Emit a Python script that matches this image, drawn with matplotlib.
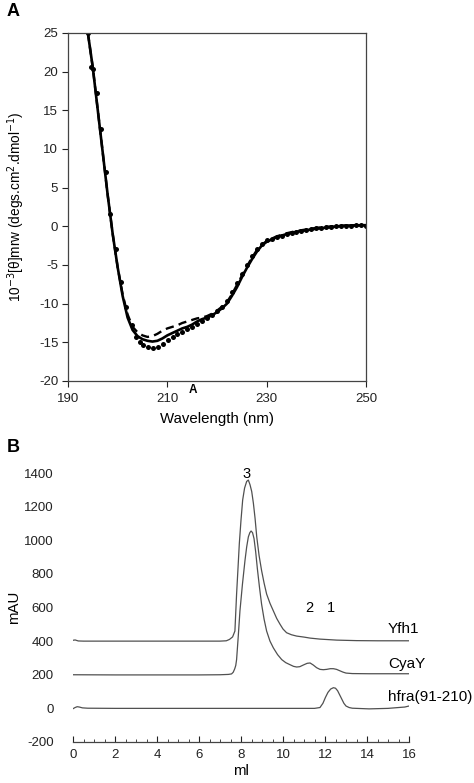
import matplotlib.pyplot as plt
from matplotlib.ticker import MultipleLocator

plt.rcParams['font.family'] = ['Liberation Sans', 'DejaVu Sans']
plt.rcParams['axes.unicode_minus'] = False

# ---- panel A: CD spectra ----
wl = [194, 195, 196, 197, 198, 199, 200, 201, 202, 203, 204, 205, 206, 207, 208,
      209, 210, 211, 212, 213, 214, 215, 216, 217, 218, 219, 220, 221, 222, 223,
      224, 225, 226, 227, 228, 229, 230, 232, 234, 236, 238, 240, 243, 246, 250]
cd_solid = [25, 20.5, 15.0, 9.5, 4.0, -1.0, -5.3, -9.0, -11.8, -13.4, -14.2, -14.6,
            -14.8, -14.9, -14.8, -14.5, -14.1, -13.8, -13.5, -13.2, -13.0, -12.7,
            -12.3, -12.0, -11.8, -11.5, -11.1, -10.6, -10.0, -9.0, -7.9, -6.6, -5.4,
            -4.3, -3.3, -2.5, -2.0, -1.4, -1.0, -0.7, -0.5, -0.3, -0.1, 0.1, 0.15]
cd_dashed = [25, 20.5, 15.0, 9.5, 4.0, -1.0, -5.3, -8.8, -11.4, -13.0, -13.7, -14.1,
             -14.3, -14.2, -13.9, -13.5, -13.2, -13.0, -12.8, -12.5, -12.3, -12.1,
             -11.9, -11.8, -11.6, -11.3, -10.9, -10.4, -9.8, -8.8, -7.6, -6.4, -5.2,
             -4.1, -3.1, -2.4, -1.9, -1.3, -0.9, -0.6, -0.4, -0.2, 0.0, 0.1, 0.15]

wl_dots = [194.0, 194.6, 195.0, 195.8, 196.6, 197.6, 198.5, 199.6, 200.7, 201.7,
           202.8, 203.6, 204.5, 205.2, 206.2, 207.2, 208.2, 209.2, 210.2, 211.2,
           212, 213, 214, 215, 216, 217, 218, 219, 220, 221, 222, 223, 224, 225,
           226, 227, 228, 229, 230, 231, 232, 233, 234, 235, 236, 237, 238, 239,
           240, 241, 242, 243, 244, 245, 246, 247, 248, 249, 250]
cd_dots = [25, 20.6, 20.4, 17.2, 12.6, 7.0, 1.6, -2.9, -7.2, -10.4,
           -12.8, -14.3, -14.9, -15.4, -15.6, -15.7, -15.6, -15.2, -14.7, -14.3,
           -13.9, -13.6, -13.3, -13.0, -12.6, -12.2, -11.9, -11.5, -11.0, -10.4,
           -9.6, -8.5, -7.3, -6.2, -5.0, -3.9, -2.9, -2.3, -1.8, -1.6, -1.4, -1.2,
           -1.0, -0.85, -0.7, -0.55, -0.45, -0.35, -0.25, -0.2, -0.1, -0.05, 0,
           0.05, 0.1, 0.1, 0.15, 0.15, 0.1]

# ---- panel B: gel filtration traces ----
yfh1_x = [0, 0.1, 0.25, 0.5, 2, 4, 6, 7.0, 7.3, 7.45, 7.6, 7.71, 7.79, 7.86, 7.92,
          8.0, 8.08, 8.17, 8.27, 8.35, 8.43, 8.51, 8.59, 8.67, 8.75, 8.86, 8.98,
          9.1, 9.22, 9.38, 9.54, 9.7, 9.86, 10.0, 10.17, 10.4, 10.65, 11.0, 11.29,
          11.76, 12.56, 13.5, 14.5, 16]
yfh1_y = [405, 407, 401, 400, 400, 400, 400, 400, 402, 410, 425, 460, 680, 840, 980,
          1120, 1240, 1310, 1350, 1358, 1330, 1290, 1220, 1130, 1020, 910, 820,
          745, 680, 625, 580, 535, 500, 472, 450, 438, 430, 424, 418,
          412, 406, 403, 402, 402]

cyay_x = [0, 2, 4, 6, 7.0, 7.4, 7.55, 7.63, 7.7, 7.75, 7.79, 7.87, 7.95, 8.07, 8.19,
          8.27, 8.35, 8.42, 8.48, 8.55, 8.62, 8.7, 8.78, 8.88, 8.98, 9.1, 9.22,
          9.38, 9.54, 9.74, 9.94, 10.13, 10.33, 10.5, 10.65, 10.8, 10.97, 11.15,
          11.29, 11.44, 11.6, 11.76, 11.92, 12.08, 12.25, 12.4, 12.55, 12.7, 12.85,
          13.0, 13.3, 14.1, 15, 16]
cyay_y = [200, 199, 199, 199, 200, 202, 205, 215, 235, 255, 290, 430, 580, 740, 880,
          960, 1020, 1045, 1055, 1045, 1010, 930, 830, 720, 620, 530, 460,
          400, 360, 320, 290, 272, 260, 250, 246, 248, 258, 268,
          270, 258, 242, 232, 230, 232, 236, 236, 232, 224, 216,
          210, 207, 206, 206, 206]

hfra_x = [0, 0.1, 0.2, 0.3, 0.45, 0.7, 2, 6, 10, 11.5, 11.76, 11.9, 12.02, 12.14,
          12.27, 12.4, 12.5, 12.6, 12.7, 12.8, 12.9, 13.0, 13.15, 13.3, 14.1, 15,
          15.8, 16]
hfra_y = [-2, 5, 10, 8, 3, 1, 0, 0, 0, 0, 5, 30, 65, 95,
          115, 123, 120, 105, 80, 55, 30, 14, 5, 1, -3, 0,
          8, 14]

trace_names = ['Yfh1', 'CyaY', 'hfra(91-210)']
name_y = [472, 263, 70]
peak_marks = ['3', '2', '1']
peak_x = [8.27, 11.27, 12.28]
peak_y = [1395, 600, 600]

fig = plt.figure(figsize=(4.74, 7.83), dpi=100)

# panel A
ax1 = fig.add_axes([68 / 474, 1 - 381 / 783, 298 / 474, 348 / 783])
ax1.plot(wl, cd_solid, color='black', lw=1.9)
ax1.plot(wl, cd_dashed, color='black', lw=1.7, ls=(0, (3.5, 2.2)))
ax1.plot(wl_dots, cd_dots, 'o', color='black', ms=3.6, mew=0)
ax1.set_xlim(190, 250)
ax1.set_ylim(-20, 25)
ax1.set_xticks([190, 210, 230, 250])
ax1.set_yticks(range(-20, 30, 5))
ax1.tick_params(direction='out', length=4, width=0.8, labelsize=9.5, pad=3,
                colors='#222222')
ax1.tick_params(axis='x', pad=5)
for s in ax1.spines.values():
    s.set_color('#444444')
    s.set_linewidth(0.9)
ax1.set_xlabel('Wavelength (nm)', fontsize=10.8, labelpad=5)
ax1.set_ylabel('10$^{-3}$[θ]mrw (degs.cm$^{2}$.dmol$^{-1}$)', fontsize=9.8)
ax1.yaxis.set_label_coords((27 - 68) / 298, 0.5)

# panel B
ax2 = fig.add_axes([73 / 474, 1 - 742 / 783, 336 / 474, (742 - 473) / 783])
tc = '#505050'
ax2.plot(yfh1_x, yfh1_y, color=tc, lw=0.9)
ax2.plot(cyay_x, cyay_y, color=tc, lw=0.9)
ax2.plot(hfra_x, hfra_y, color=tc, lw=0.9)
for name, ny in zip(trace_names, name_y):
    ax2.text(15.0, ny, name, fontsize=11, va='center', ha='left', clip_on=False)
for m, px, py in zip(peak_marks, peak_x, peak_y):
    ax2.text(px, py, m, fontsize=10.5, va='center', ha='center', clip_on=False)
ax2.set_xlim(0, 16)
ax2.set_ylim(-200, 1400)
ax2.set_xticks(range(0, 17, 2))
ax2.xaxis.set_minor_locator(MultipleLocator(0.5))
ax2.set_yticks(range(-200, 1600, 200))
for side in ['top', 'right', 'left']:
    ax2.spines[side].set_visible(False)
ax2.spines['bottom'].set_color('#444444')
ax2.spines['bottom'].set_linewidth(0.9)
ax2.tick_params(axis='x', which='major', direction='in', length=4.5, width=0.8,
                labelsize=9.5, pad=5, colors='#222222')
ax2.tick_params(axis='x', which='minor', direction='in', length=2.5, width=0.7,
                colors='#444444')
ax2.tick_params(axis='y', length=0, labelsize=9.5, pad=14, colors='#222222')
ax2.set_xlabel('ml', fontsize=10.8, labelpad=2)
ax2.set_ylabel('mAU', fontsize=10.8)
ax2.yaxis.set_label_coords((21 - 73) / 336, (742 - 607) / (742 - 473))

fig.text(7 / 474, 1 - 11 / 783, 'A', fontsize=13, fontweight='bold', va='center')
fig.text(7 / 474, 1 - 447 / 783, 'B', fontsize=13, fontweight='bold', va='center')
fig.text(193 / 474, 1 - 390 / 783, 'A', fontsize=8.5, fontweight='bold',
         ha='center', va='center')

fig.savefig('out.png', dpi=100)
plt.close()
